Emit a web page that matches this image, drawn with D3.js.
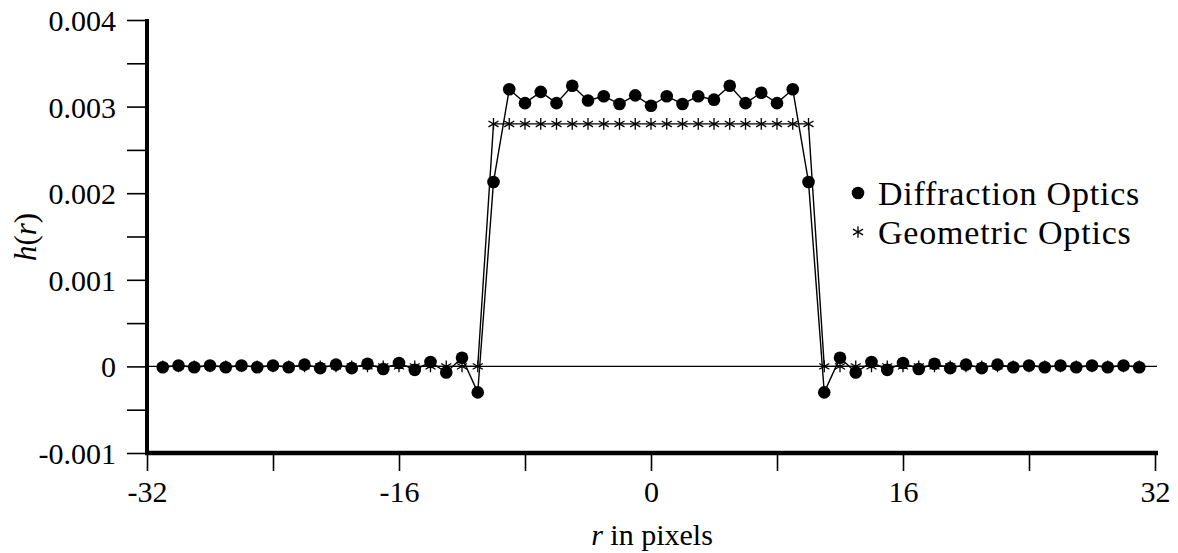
<!DOCTYPE html>
<html lang="en">
  <head>
    <meta charset="utf-8">
    <title>h(r) - diffraction vs geometric optics</title>
    <script src="https://d3js.org/d3.v7.min.js"></script>
    <style>
    body { margin: 0; background: #fff; }
    svg { display: block; }
    text { font-family: "Liberation Serif", "Times New Roman", serif; fill: #000; }
    </style>
  </head>
  <body>
    <div id="chart"></div>
    <script>
    // sample positions in pixels
    var rValues = [-31, -30, -29, -28, -27, -26, -25, -24, -23, -22, -21, -20, -19, -18, -17, -16,
                   -15, -14, -13, -12, -11, -10, -9, -8, -7, -6, -5, -4, -3, -2, -1,
                   0, 1, 2, 3, 4, 5, 6, 7, 8, 9, 10, 11, 12, 13, 14, 15,
                   16, 17, 18, 19, 20, 21, 22, 23, 24, 25, 26, 27, 28, 29, 30, 31];

    var diffraction = [-0.00001, 0.00001, -0.00001, 0.00001, -0.00001, 0.00001, -0.00001, 0.00001,
                       -0.00001, 0.00002, -0.00002, 0.00002, -0.00002, 0.00003, -0.00003, 0.00004,
                       -0.00004, 0.00005, -0.00007, 0.00010, -0.00030, 0.00213,
                       0.00320, 0.00304, 0.00317, 0.00304, 0.00324, 0.00307, 0.00312, 0.00303, 0.00313,
                       0.00301,
                       0.00312, 0.00303, 0.00312, 0.00308, 0.00324, 0.00304, 0.00316, 0.00304, 0.00320,
                       0.00213, -0.00030, 0.00010, -0.00007, 0.00005, -0.00004, 0.00004, -0.00003,
                       0.00003, -0.00002, 0.00002, -0.00002, 0.00002, -0.00001, 0.00001, -0.00001,
                       0.00001, -0.00001, 0.00001, -0.00001, 0.00001, -0.00001];

    var geometric = [0, 0, 0, 0, 0, 0, 0, 0, 0, 0, 0, 0, 0, 0, 0, 0, 0, 0, 0, 0, 0,
                     0.0028, 0.0028, 0.0028, 0.0028, 0.0028, 0.0028, 0.0028, 0.0028, 0.0028, 0.0028,
                     0.0028,
                     0.0028, 0.0028, 0.0028, 0.0028, 0.0028, 0.0028, 0.0028, 0.0028, 0.0028, 0.0028,
                     0, 0, 0, 0, 0, 0, 0, 0, 0, 0, 0, 0, 0, 0, 0, 0, 0, 0, 0, 0, 0];

    var xTicks = [-32, -24, -16, -8, 0, 8, 16, 24, 32];
    var xTickLabels = ["-32", "", "-16", "", "0", "", "16", "", "32"];
    var yTicks = [-0.001, -0.0005, 0, 0.0005, 0.001, 0.0015, 0.002, 0.0025, 0.003, 0.0035, 0.004];
    var yTickLabels = ["-0.001", "", "0", "", "0.001", "", "0.002", "", "0.003", "", "0.004"];
    var legendLabels = ["Diffraction Optics", "Geometric Optics"];

    var width = 1178, height = 553;
    var svg = d3.select("#chart").append("svg")
      .attr("width", width).attr("height", height);

    var x = d3.scaleLinear().domain([-32, 32]).range([147, 1155]);
    var y = d3.scaleLinear().domain([-0.001, 0.004]).range([453, 20]);

    //zero reference line
    svg.append("line")
      .attr("x1", x(-32)).attr("x2", x(32) + 2)
      .attr("y1", y(0)).attr("y2", y(0))
      .attr("stroke", "#000").attr("stroke-width", 1.2);

    var diffPts = rValues.map(function (r, i) { return [r, diffraction[i]]; });
    var geoPts = rValues.map(function (r, i) { return [r, geometric[i]]; });

    var line = d3.line()
      .x(function (d) { return x(d[0]); })
      .y(function (d) { return y(d[1]); });

    svg.append("path").datum(geoPts)
      .attr("d", line).attr("fill", "none")
      .attr("stroke", "#000").attr("stroke-width", 1.4);
    svg.append("path").datum(diffPts)
      .attr("d", line).attr("fill", "none")
      .attr("stroke", "#000").attr("stroke-width", 1.4);

    // asterisk markers for geometric optics
    var star = d3.symbol().type(d3.symbolAsterisk).size(95);
    svg.selectAll(".geo").data(geoPts).enter().append("path")
      .attr("class", "geo")
      .attr("d", star)
      .attr("transform", function (d) { return "translate(" + x(d[0]) + "," + y(d[1]) + ")"; })
      .attr("fill", "none").attr("stroke", "#000").attr("stroke-width", 1.3);

    // filled dots for diffraction optics
    svg.selectAll(".diff").data(diffPts).enter().append("circle")
      .attr("class", "diff")
      .attr("cx", function (d) { return x(d[0]); })
      .attr("cy", function (d) { return y(d[1]); })
      .attr("r", 6.3).attr("fill", "#000");

    // y axis
    var yAxis = d3.axisLeft(y).tickValues(yTicks).tickSize(20)
      .tickFormat(function (d, i) { return yTickLabels[i]; });
    var gy = svg.append("g").attr("transform", "translate(" + x(-32) + ",0)").call(yAxis);
    gy.select(".domain").remove();
    gy.selectAll(".tick line").attr("stroke-width", 1.6);
    gy.selectAll(".tick text").attr("x", -31).attr("dy", "0.35em")
      .style("font-size", "30px").style("font-family", "Liberation Serif, serif");
    svg.append("line")
      .attr("x1", x(-32)).attr("x2", x(-32))
      .attr("y1", y(0.004) - 1).attr("y2", y(-0.001) + 2)
      .attr("stroke", "#000").attr("stroke-width", 4);

    // x axis
    var xAxis = d3.axisBottom(x).tickValues(xTicks).tickSize(18)
      .tickFormat(function (d, i) { return xTickLabels[i]; });
    var gx = svg.append("g").attr("transform", "translate(0," + y(-0.001) + ")").call(xAxis);
    gx.select(".domain").remove();
    gx.selectAll(".tick line").attr("stroke-width", 1.6);
    gx.selectAll(".tick text").attr("y", 38).attr("dy", "0.35em")
      .style("font-size", "30px").style("font-family", "Liberation Serif, serif");
    svg.append("line")
      .attr("x1", x(-32) - 2).attr("x2", x(32) + 3)
      .attr("y1", y(-0.001)).attr("y2", y(-0.001))
      .attr("stroke", "#000").attr("stroke-width", 4.5);

    // axis titles
    var xt = svg.append("text")
      .attr("x", 652).attr("y", 545)
      .attr("text-anchor", "middle")
      .style("font-size", "30px");
    xt.append("tspan").style("font-style", "italic").text("r");
    xt.append("tspan").text(" in pixels");

    var yt = svg.append("text")
      .attr("transform", "translate(36,237) rotate(-90)")
      .attr("text-anchor", "middle")
      .style("font-size", "31px");
    yt.append("tspan").style("font-style", "italic").text("h");
    yt.append("tspan").text("(");
    yt.append("tspan").style("font-style", "italic").text("r");
    yt.append("tspan").text(")");

    // legend
    var leg = svg.append("g").attr("transform", "translate(858,193)");
    leg.append("circle").attr("cx", 0).attr("cy", 0).attr("r", 6.3).attr("fill", "#000");
    leg.append("text").attr("x", 20).attr("y", 0).attr("dy", "0.35em")
      .style("font-size", "34px").style("letter-spacing", "0.8px").text(legendLabels[0]);
    leg.append("path").attr("d", star)
      .attr("transform", "translate(0,39)")
      .attr("fill", "none").attr("stroke", "#000").attr("stroke-width", 1.3);
    leg.append("text").attr("x", 20).attr("y", 39).attr("dy", "0.35em")
      .style("font-size", "34px").style("letter-spacing", "0.8px").text(legendLabels[1]);
    </script>
  </body>
</html>
